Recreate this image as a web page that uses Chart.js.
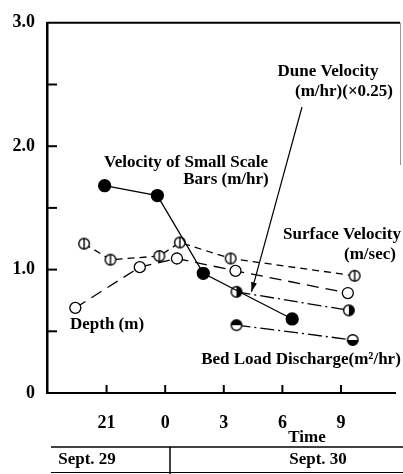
<!DOCTYPE html>
<html>
<head>
<meta charset="utf-8">
<script src="https://cdn.jsdelivr.net/npm/chart.js@4/dist/chart.umd.min.js"></script>
<style>
  html, body { margin: 0; padding: 0; background: #fff; }
  #wrap { width: 403px; height: 474px; position: relative; }
</style>
</head>
<body>
<div id="wrap"><canvas id="chart" width="403" height="474"></canvas></div>
<script>
// time in hours from midnight Sept. 29 (24 = 0h Sept. 30)
const timeTicks = [21, 24, 27, 30, 33];

const barsTime = [20.9, 23.6, 25.95, 30.5];
const barsVel = [1.68, 1.60, 0.97, 0.60];

const surfTime = [19.85, 21.2, 23.7, 24.75, 27.35, 33.7];
const surfVel = [1.21, 1.08, 1.11, 1.22, 1.09, 0.95];

const depthTime = [19.4, 22.7, 24.6, 27.6, 33.35];
const depthVal = [0.69, 1.02, 1.09, 0.99, 0.81];

const duneTime = [27.65, 33.4];
const duneVel = [0.82, 0.67];

const bedTime = [27.65, 33.6];
const bedLoad = [0.55, 0.43];

const FONT = 'bold 17px "Liberation Serif", "DejaVu Serif", serif';

function pts(xs, ys) { return xs.map((x, i) => ({ x, y: ys[i] })); }

function marker(kind) {
  const c = document.createElement('canvas');
  c.width = 14; c.height = 14;
  const g = c.getContext('2d');
  const r = 5.3;
  g.lineWidth = 1.4;
  g.strokeStyle = '#000';
  g.fillStyle = '#fff';
  g.beginPath(); g.arc(7, 7, r, 0, Math.PI * 2); g.fill();
  g.fillStyle = '#000';
  if (kind === 'right') {
    g.beginPath(); g.arc(7, 7, r, -Math.PI / 2, Math.PI / 2); g.closePath(); g.fill();
  } else if (kind === 'top') {
    g.beginPath(); g.arc(7, 7, r, Math.PI, 0); g.closePath(); g.fill();
  } else if (kind === 'bottom') {
    g.beginPath(); g.arc(7, 7, r, 0, Math.PI); g.closePath(); g.fill();
  }
  g.beginPath(); g.arc(7, 7, r, 0, Math.PI * 2); g.stroke();
  if (kind === 'bar') {
    g.beginPath(); g.moveTo(7, 1.5); g.lineTo(7, 12.5); g.stroke();
  }
  return c;
}

const decor = {
  id: 'decor',
  afterDraw(chart) {
    const { ctx, scales: { x, y }, chartArea: a } = chart;
    ctx.save();
    ctx.strokeStyle = '#000';
    ctx.fillStyle = '#000';

    // frame top + faint right edge
    ctx.lineWidth = 2;
    ctx.beginPath(); ctx.moveTo(a.left, a.top); ctx.lineTo(400, a.top); ctx.stroke();
    ctx.lineWidth = 1;
    ctx.strokeStyle = '#999';
    ctx.beginPath(); ctx.moveTo(400.5, a.top); ctx.lineTo(400.5, 165); ctx.stroke();
    ctx.strokeStyle = '#000';

    // inner tick marks
    ctx.lineWidth = 2;
    for (let v = 0.5; v < 3; v += 0.5) {
      const py = y.getPixelForValue(v);
      ctx.beginPath(); ctx.moveTo(a.left, py); ctx.lineTo(a.left + 10, py); ctx.stroke();
    }
    timeTicks.forEach(t => {
      const px = x.getPixelForValue(t);
      ctx.beginPath(); ctx.moveTo(px, a.bottom); ctx.lineTo(px, a.bottom - 8); ctx.stroke();
    });

    // dune velocity arrow
    const tipX = x.getPixelForValue(duneTime[0]) + 15;
    const tipY = y.getPixelForValue(duneVel[0]);
    const sx = 302, sy = 107;
    ctx.lineWidth = 1.2;
    ctx.beginPath(); ctx.moveTo(sx, sy); ctx.lineTo(tipX, tipY); ctx.stroke();
    const ang = Math.atan2(tipY - sy, tipX - sx);
    ctx.beginPath();
    ctx.moveTo(tipX, tipY);
    ctx.lineTo(tipX - 10 * Math.cos(ang - 0.3), tipY - 10 * Math.sin(ang - 0.3));
    ctx.lineTo(tipX - 10 * Math.cos(ang + 0.3), tipY - 10 * Math.sin(ang + 0.3));
    ctx.closePath(); ctx.fill();

    // labels
    ctx.font = FONT;
    ctx.textAlign = 'center';
    ctx.textBaseline = 'middle';
    ctx.fillText('Dune Velocity', 328, 72);
    ctx.fillText('(m/hr)(\u00d70.25)', 344, 92);
    ctx.fillText('Velocity of Small Scale', 186, 163);
    ctx.fillText('Bars (m/hr)', 226, 180);
    ctx.fillText('Surface Velocity', 342, 235);
    ctx.fillText('(m/sec)', 370, 255);
    ctx.fillText('Depth (m)', 107, 325);
    ctx.fillText('Bed Load Discharge(m\u00b2/hr)', 301, 360);
    ctx.fillText('Time', 307, 438);
    ctx.fillText('Sept. 29', 87, 460);
    ctx.fillText('Sept. 30', 318, 460);

    // date table
    ctx.lineWidth = 1.5;
    ctx.beginPath(); ctx.moveTo(51, 447); ctx.lineTo(403, 447); ctx.stroke();
    ctx.beginPath(); ctx.moveTo(170, 447); ctx.lineTo(170, 474); ctx.stroke();
    ctx.lineWidth = 1;
    ctx.beginPath(); ctx.moveTo(51, 472.5); ctx.lineTo(403, 472.5); ctx.stroke();
    ctx.restore();
  }
};

const lineBase = { borderColor: '#000', borderWidth: 1.3, tension: 0, fill: false, pointRadius: 5.5 };
const tickFont = { family: '"Liberation Serif", serif', size: 18, weight: 'bold' };

new Chart(document.getElementById('chart'), {
  type: 'line',
  data: {
    datasets: [
      { ...lineBase, label: 'Velocity of Small Scale Bars (m/hr)', data: pts(barsTime, barsVel),
        pointStyle: 'circle', pointBackgroundColor: '#000', pointBorderColor: '#000', pointRadius: 6 },
      { ...lineBase, label: 'Surface Velocity (m/sec)', data: pts(surfTime, surfVel),
        borderDash: [7, 5], pointStyle: marker('bar') },
      { ...lineBase, label: 'Depth (m)', data: pts(depthTime, depthVal),
        borderDash: [12, 7], pointStyle: 'circle', pointBackgroundColor: '#fff', pointBorderColor: '#000', pointBorderWidth: 1.3 },
      { ...lineBase, label: 'Dune Velocity (m/hr)(x0.25)', data: pts(duneTime, duneVel),
        borderDash: [14, 4, 2, 4], pointStyle: marker('right') },
      { ...lineBase, label: 'Bed Load Discharge (m2/hr)', data: pts(bedTime, bedLoad),
        borderDash: [14, 4, 2, 4], pointStyle: [marker('top'), marker('bottom')] }
    ]
  },
  options: {
    responsive: false,
    animation: false,
    layout: { padding: { top: 13, right: 0, left: 0, bottom: 0 } },
    plugins: { legend: { display: false }, tooltip: { enabled: false } },
    scales: {
      x: {
        type: 'linear',
        min: 17.95,
        max: 35.8,
        grid: { display: false, drawTicks: false },
        border: { display: true, color: '#000', width: 2 },
        afterBuildTicks: axis => { axis.ticks = timeTicks.map(v => ({ value: v })); },
        afterFit: axis => { axis.height = 81; },
        ticks: {
          padding: 20,
          color: '#000',
          font: tickFont,
          callback: v => String(v % 24)
        }
      },
      y: {
        min: 0,
        max: 3,
        grid: { display: false, drawTicks: false },
        border: { display: true, color: '#000', width: 2.5 },
        afterFit: axis => { axis.width = 47; },
        ticks: {
          stepSize: 0.5,
          padding: 12,
          color: '#000',
          font: tickFont,
          callback: v => (v % 1 === 0 ? (v === 0 ? '0' : v.toFixed(1)) : '')
        }
      }
    }
  },
  plugins: [decor]
});
</script>
</body>
</html>
